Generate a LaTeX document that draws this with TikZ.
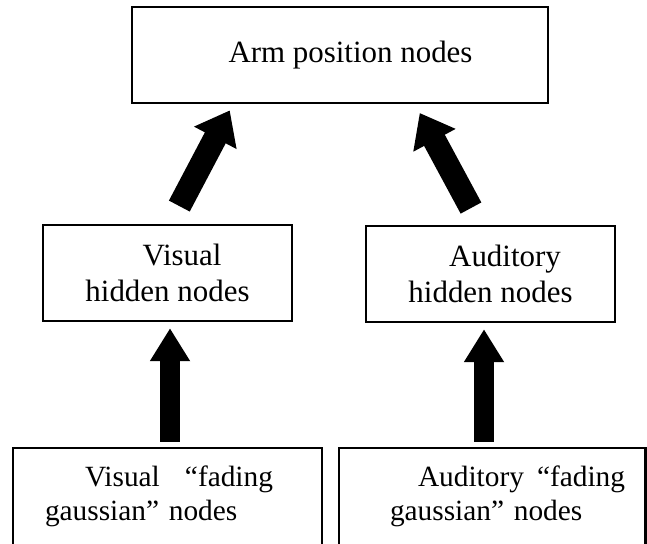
\documentclass[tikz,border=0pt]{standalone}
\usepackage{fontspec}
\setmainfont{Liberation Serif}
\usetikzlibrary{arrows.meta, calc}
\tikzset{
    box/.style = {draw, line width=1.4pt, inner sep=0pt, minimum height=1.92cm,
        font=\fontsize{17.6pt}{20.5pt}\selectfont},
    inbox/.style = {box, minimum height=1.94cm, align=left,
        font=\fontsize{16.7pt}{19.5pt}\selectfont},
    upflow/.style = {line width=0.4cm, -{Triangle[length=0.66cm, width=0.76cm]}},
    slantflow/.style = {line width=0.47cm, -{Triangle[length=0.62cm, width=0.92cm]}},
}

\begin{document}
\begin{tikzpicture}
\useasboundingbox (0,0) rectangle (12.94,10.86);

\node[box, minimum width=8.32cm](Arm) at (6.80,9.76) {\hspace*{0.42cm}Arm position nodes};

\node[box, minimum width=4.98cm, align=center](VH) at (3.35,5.40) {\hspace*{0.58cm}Visual\\hidden nodes};
\node[box, minimum width=4.98cm, align=center](AH) at (9.81,5.38) {\hspace*{0.58cm}Auditory\\hidden nodes};

\node[inbox, text width=6.18cm](VG) at (3.35,0.93)
    {\hspace*{1.44cm}Visual\hspace{0pt plus 1filll}“fading\hspace*{0.98cm}\null\\\hspace*{0.64cm}gaussian” nodes};
\node[inbox, text width=6.13cm](AG) at (9.845,0.93)
    {\hspace*{1.58cm}Auditory\hspace{0pt plus 1filll}“fading\hspace*{0.41cm}\null\\\hspace*{1.02cm}gaussian” nodes};

\draw[upflow, shorten <=0.1cm, shorten >=0.12cm] ($(VG.north)+(0.05,0)$) -- ($(VG.north |- VH.south)+(0.05,0)$);
\draw[upflow, shorten <=0.1cm, shorten >=0.12cm] ($(AG.north)+(-0.165,0)$) -- ($(AG.north |- AH.south)+(-0.165,0)$);

\draw[slantflow, shorten <=0.4cm, shorten >=0.14cm] ($(VH.north)+(0.05,0)$) -- ($(Arm.south)+(-2.14,0)$);
\draw[slantflow, shorten <=0.38cm, shorten >=0.2cm] ($(AH.north)+(-0.21,0)$) -- ($(Arm.south)+(1.50,0)$);
\end{tikzpicture}
\end{document}
